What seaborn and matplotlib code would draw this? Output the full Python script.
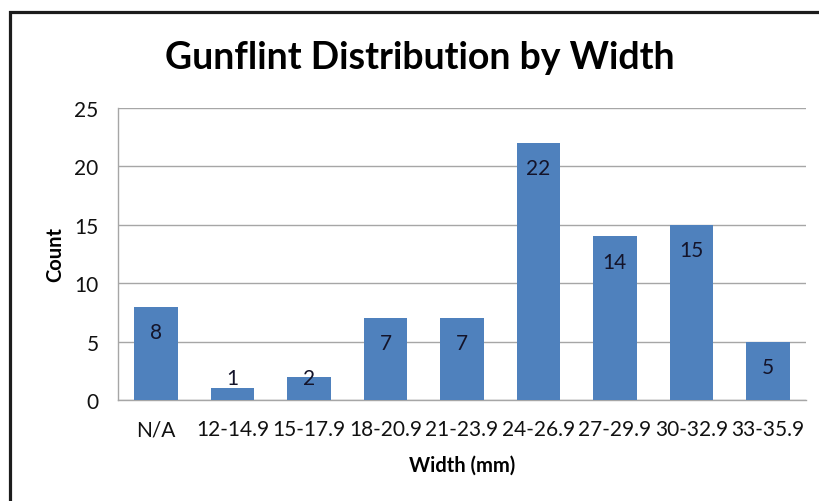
import matplotlib
matplotlib.use("Agg")
import matplotlib.pyplot as plt
from matplotlib.patches import Rectangle
import seaborn as sns

# Gunflint counts per width bin
categories = ["N/A", "12-14.9", "15-17.9", "18-20.9", "21-23.9",
              "24-26.9", "27-29.9", "30-32.9", "33-35.9"]
counts = [8, 1, 2, 7, 7, 22, 14, 15, 5]
y_ticks = [0, 5, 10, 15, 20, 25]

sns.set_style("white")
plt.rcParams["font.family"] = ["Lato", "DejaVu Sans"]

fig = plt.figure(figsize=(8.19, 5.02), dpi=100)
ax = fig.add_axes([118 / 819, 1 - 401 / 502, 688 / 819, 292 / 502])

sns.barplot(x=categories, y=counts, color="#4F81BD", saturation=1,
            width=0.57, linewidth=0, ax=ax, zorder=3)

ax.set_ylim(0, 25)
ax.set_xlim(-0.5, len(categories) - 0.5)
ax.set_yticks(y_ticks)
ax.yaxis.grid(True, color="#A6A6A6", linewidth=1.0, zorder=0)
ax.set_axisbelow(True)
ax.tick_params(axis="both", length=0, labelsize=15, colors="#111111")
ax.tick_params(axis="y", pad=14)
ax.tick_params(axis="x", pad=14)
ax.set_xlabel("")
ax.set_ylabel("")
for side in ["top", "right"]:
    ax.spines[side].set_visible(False)
for side in ["left", "bottom"]:
    ax.spines[side].set_color("#A6A6A6")
    ax.spines[side].set_linewidth(1.0)

# value labels, inside end of each bar
for i, v in enumerate(counts):
    ax.text(i, max(v - 2.15, 1.85), str(v), ha="center", va="center",
            fontsize=15, color="#14142a", zorder=4)

fig.text(420 / 819, 1 - 58 / 502, "Gunflint Distribution by Width",
         ha="center", va="center", fontsize=27, fontweight="bold",
         color="black")
fig.text(462 / 819, 1 - 466 / 502, "Width (mm)", ha="center", va="center",
         fontsize=14.5, fontweight="bold", color="black")
fig.text(55 / 819, 1 - 255 / 502, "Count", ha="center", va="center",
         rotation=90, fontsize=14.5, fontweight="bold", color="black")

# outer chart frame (only left and top edges are inside the picture)
fig.patches.append(Rectangle((9.5 / 819, -0.2), 2.0, 1.2 - 12.5 / 502,
                             transform=fig.transFigure, fill=False,
                             edgecolor="#1c1c1c", linewidth=2.3))

fig.savefig("out.png", dpi=100)
